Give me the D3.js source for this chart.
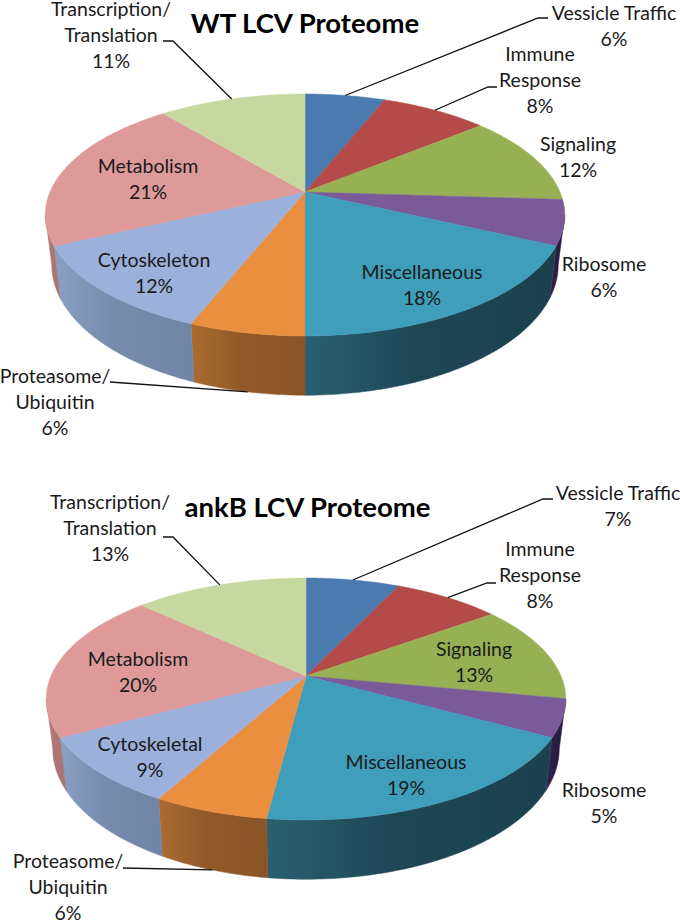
<!DOCTYPE html>
<html><head><meta charset="utf-8">
<script src="https://cdnjs.cloudflare.com/ajax/libs/d3/7.8.5/d3.min.js"></script>
<style>html,body{margin:0;padding:0;background:#fff}svg{display:block}text{font-family:Lato,"Open Sans",sans-serif;fill:#1a1a1a}</style>
</head><body><svg id="c" width="680" height="921"></svg>
<script>
const categoriesWT = ["Vessicle Traffic","Immune\nResponse","Signaling","Ribosome","Miscellaneous","Proteasome/\nUbiquitin","Cytoskeleton","Metabolism","Transcription/\nTranslation"];
const valuesWT = [6,8,12,6,18,6,12,21,11];
const categoriesAnkB = ["Vessicle Traffic","Immune\nResponse","Signaling","Ribosome","Miscellaneous","Proteasome/\nUbiquitin","Cytoskeletal","Metabolism","Transcription/\nTranslation"];
const valuesAnkB = [7,8,13,5,19,6,9,20,13];
const colors = ["#4a7ab0","#b54b48","#96b053","#7b5a9a","#3f9fbb","#ea8f3f","#9bb1db","#dd9a98","#c6d8a0"];
const sideStart = ["#3a5f8a","#8e3b39","#75893f","#34224e","#2a6070","#ab6b30","#8aa0c4","#b8807e","#9aa97c"];
const sideEnd   = ["#3a5f8a","#8e3b39","#75893f","#2a1c40","#1b414f","#8a5426","#7085a6","#a87472","#9aa97c"];

const charts = [
 {title:"WT LCV Proteome", titleX:305, titleY:23, cx:305, cy:192, cats:categoriesWT, vals:valuesWT,
  labels:[[614,14],[540,55],[578,145],[604,265],[422,273],[55,377],[154,261],[148,167],[111,10]],
  leaders:{0:[[538,18],[548,18]],1:[[488,87],[497,87]],5:[[110,382]],8:[[173,41],[163,41]]}},
 {title:"ankB LCV Proteome", titleX:307.5, titleY:507, cx:306, cy:676, cats:categoriesAnkB, vals:valuesAnkB,
  labels:[[618,494],[540,550],[474,650],[604,791],[406,763],[68,862],[150,745],[138,660],[110,503]],
  leaders:{0:[[543,499],[553,499]],1:[[487,583],[496,583]],5:[[123,868]],8:[[173,537],[163,537]]}}
];

const svg = d3.select("#c");
const defs = svg.append("defs");
const P = 0.19, A = 255, B = 116.6, DEPTH = 48, SHRINK = 0.975;
const visFrom = Math.PI*101/180, visTo = Math.PI*259/180;
const line = d3.line();
const pie = d3.pie().sort(null).startAngle(0).endAngle(2*Math.PI);

function proj(c,t){
  const u=Math.sin(t), v=-Math.cos(t), w=1-P*v;
  return [c.cx+A*u/w, c.cy+B*v/w];
}
function projBottom(c,t){
  const [x,y]=proj(c,t), v=-Math.cos(t), w=1-P*v;
  return [c.cx+(x-c.cx)*SHRINK, y+DEPTH/w];
}
function samples(a,b){
  const n=Math.max(2,Math.ceil((b-a)/0.01));
  return d3.range(n+1).map(i=>a+(b-a)*i/n);
}

charts.forEach((c,ci)=>{
  const arcs = pie(c.vals);
  const g = svg.append("g");
  arcs.forEach((d,i)=>{
    const a=Math.max(d.startAngle,visFrom), b=Math.min(d.endAngle,visTo);
    if(b<=a) return;
    const ts=samples(a,b);
    const top=ts.map(t=>proj(c,t));
    const bot=ts.map(t=>projBottom(c,t)).reverse();
    const xs=top.concat(bot).map(p=>p[0]);
    const id=`g${ci}_${i}`;
    const lg=defs.append("linearGradient").attr("id",id).attr("gradientUnits","userSpaceOnUse")
      .attr("x1",d3.min(xs)).attr("x2",d3.max(xs)).attr("y1",0).attr("y2",0);
    lg.append("stop").attr("offset",0).attr("stop-color",sideStart[i]);
    lg.append("stop").attr("offset",0.45).attr("stop-color",d3.interpolateRgb(sideStart[i],sideEnd[i])(0.8));
    lg.append("stop").attr("offset",1).attr("stop-color",sideEnd[i]);
    g.append("path").attr("d",line(top.concat(bot))+"Z").attr("fill",`url(#${id})`)
      .attr("stroke",`url(#${id})`).attr("stroke-width",0.5);
  });
  arcs.forEach((d,i)=>{
    const pts=[[c.cx,c.cy]].concat(samples(d.startAngle,d.endAngle).map(t=>proj(c,t)));
    g.append("path").attr("d",line(pts)+"Z").attr("fill",colors[i]).attr("stroke",colors[i]).attr("stroke-width",0.5);
  });
  Object.keys(c.leaders).forEach(k=>{
    const d=arcs[+k], mid=(d.startAngle+d.endAngle)/2;
    const start=(mid>visFrom&&mid<visTo)?projBottom(c,mid):proj(c,mid);
    g.append("path").attr("d",line([start].concat(c.leaders[k]))).attr("fill","none")
      .attr("stroke","#111").attr("stroke-width",1.3);
  });
  arcs.forEach((d,i)=>{
    const lines=c.cats[i].split("\n").concat([c.vals[i]+"%"]);
    const [x,y]=c.labels[i];
    lines.forEach((s,j)=>{
      g.append("text").attr("x",x).attr("y",y+6+j*26).attr("text-anchor","middle")
       .attr("font-size",19.5).text(s);
    });
  });
  g.append("text").attr("x",c.titleX).attr("y",c.titleY+10).attr("text-anchor","middle")
   .attr("font-size",27.5).attr("font-weight",700).style("fill","#000").text(c.title);
});
</script></body></html>
